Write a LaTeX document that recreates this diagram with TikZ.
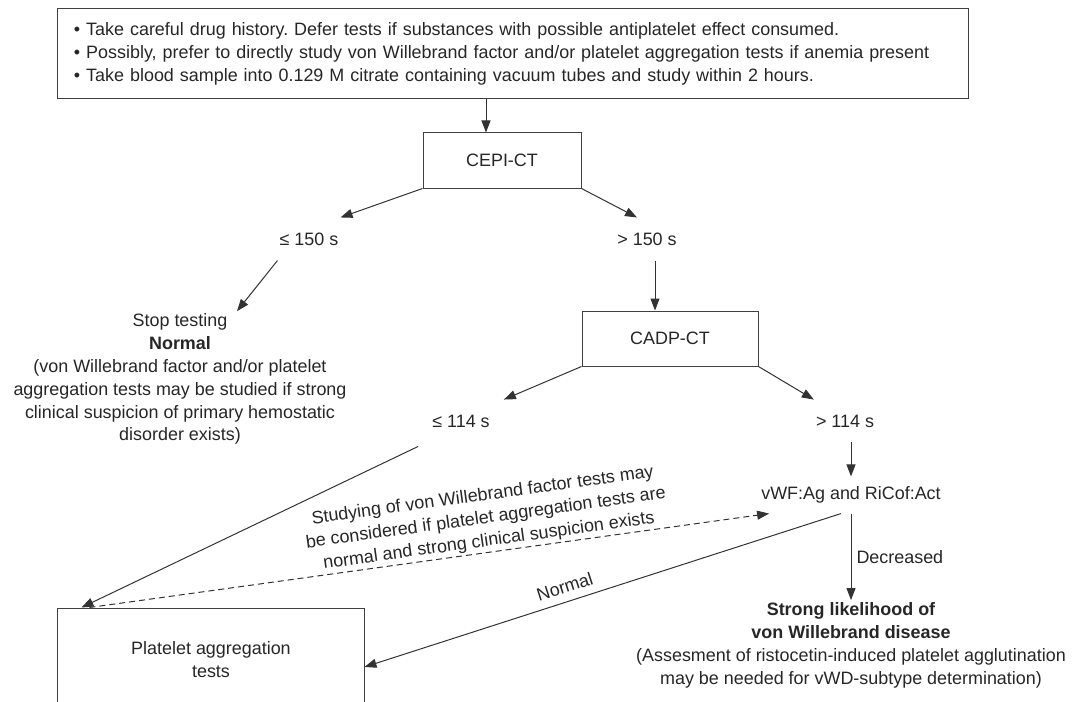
\documentclass[tikz,border=0pt]{standalone}
\usepackage{fontspec}
\setmainfont{Liberation Sans}
\usetikzlibrary{arrows.meta}
\frenchspacing
\begin{document}
\begin{tikzpicture}[x=1bp,y=-1bp,
    every node/.style={font=\fontsize{18}{23}\selectfont,text=black!85},
    box/.style={draw=black!75,line width=1bp,align=center,inner sep=0pt},
    lbl/.style={inner xsep=2bp,inner ysep=15bp},
    arr/.style={draw=black!80,line width=1bp,-{Triangle[length=12bp,width=9bp]}}]
    \useasboundingbox (0,0) rectangle (1077,702);
    \clip (0,0) rectangle (1077,702);
    %draw boxes
    \node[box,minimum width=910bp,minimum height=90bp,text width=878bp,align=left] (hist) at (513,54)
        {• Take careful drug history. Defer tests if substances with possible antiplatelet effect consumed.\\
         • Possibly, prefer to directly study von Willebrand factor and/or platelet aggregation tests if anemia present\\
         • Take blood sample into 0.129 M citrate containing vacuum tubes and study within 2 hours.};
    \node[box,minimum width=158bp,minimum height=55bp] (cepi) at (502,160.5) {CEPI-CT};
    \node[box,minimum width=176bp,minimum height=55bp] (cadp) at (670,338.5) {CADP-CT};
    \node[box,minimum width=306bp,minimum height=104bp] (plat) at (211,660) {Platelet aggregation\\tests};
    %draw results
    \node[lbl] (le150) at (309,239) {≤ 150 s};
    \node[lbl] (gt150) at (647,239) {> 150 s};
    \node[lbl] (le114) at (461,421) {≤ 114 s};
    \node[lbl] (gt114) at (845,421) {> 114 s};
    \node[inner xsep=2bp,inner ysep=10bp] (vwf) at (851,495) {vWF:Ag and RiCof:Act};
    \node[align=center,inner sep=2bp] (stop) at (180,379)
        {Stop testing\\\textbf{Normal}\\(von Willebrand factor and/or platelet\\aggregation tests may be studied if strong\\clinical suspicion of primary hemostatic\\disorder exists)};
    \node[align=center,inner sep=2bp] (vwd) at (851,645)
        {\textbf{Strong likelihood of}\\\textbf{von Willebrand disease}\\(Assesment of ristocetin-induced platelet agglutination\\may be needed for vWD-subtype determination)};
    %draw arrows
    \coordinate (cepiin) at ([xshift=-16bp]cepi.north);
    \draw[arr] (cepiin |- hist.south) -- (cepiin);
    \draw[arr] (cepi.south west) -- (le150.north east);
    \draw[arr] (cepi.south east) -- ([xshift=-10bp]gt150.north);
    \draw[arr] (le150.south west) -- ([xshift=57bp]stop.north);
    \coordinate (cadpin) at ([xshift=-15bp]cadp.north);
    \draw[arr] (cadpin |- gt150.south) -- (cadpin);
    \draw[arr] (cadp.south west) -- ([xshift=12bp]le114.north east);
    \draw[arr] (cadp.south east) -- (gt114.north west);
    \draw[arr] ([xshift=-12bp,yshift=-4bp]le114.south west) -- ([xshift=24bp]plat.north west);
    \draw[arr] (vwf.north |- gt114.south) -- (vwf.north);
    \draw[arr,dash pattern=on 6bp off 4bp] ([xshift=32bp]plat.north west) --
        node[pos=0.59,sloped,above,inner sep=2bp,align=center] (hint)
        {Studying of von Willebrand factor tests may\\be considered if platelet aggregation tests are\\normal and strong clinical suspicion exists}
        ([xshift=10bp]vwf.south west);
    \draw[arr] ([xshift=-10bp]vwf.south) -- node[pos=0.57,sloped,above,inner sep=8bp] (nrm) {Normal} ([yshift=-7bp]plat.east);
    \draw[arr] (vwf.south) -- node[right,inner sep=5bp] (dec) {Decreased} (vwd.north);
\end{tikzpicture}
\end{document}
